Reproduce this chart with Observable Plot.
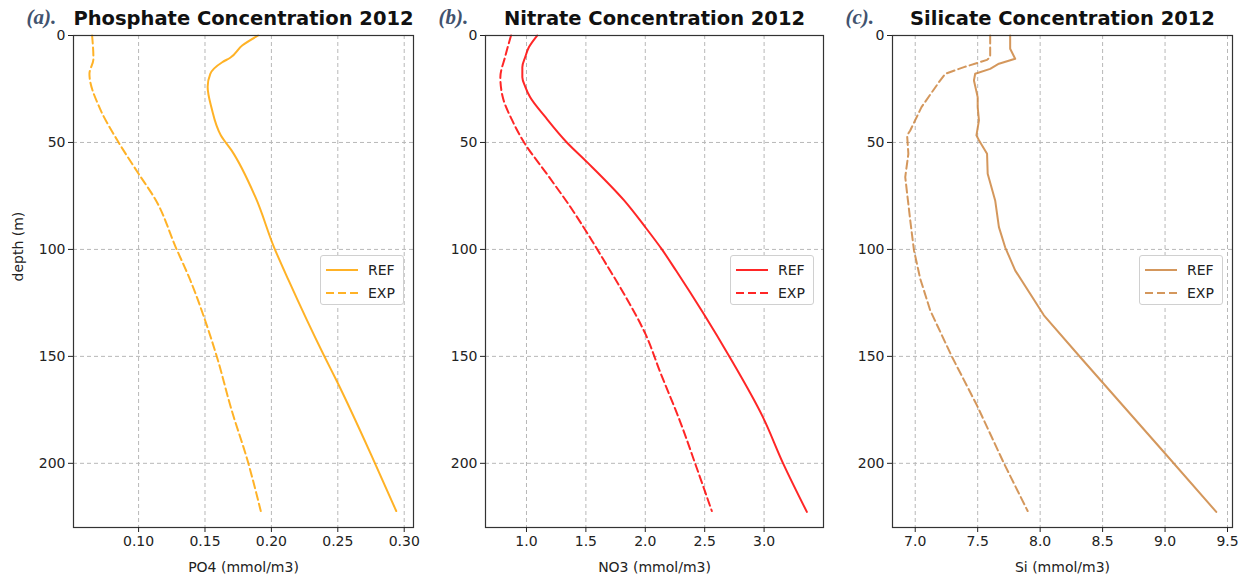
<!DOCTYPE html>
<html>
<head>
<meta charset="utf-8">
<script src="https://cdn.jsdelivr.net/npm/d3@7"></script>
<script src="https://cdn.jsdelivr.net/npm/@observablehq/plot@0.6"></script>
<style>
  html, body { margin: 0; padding: 0; background: #fff; }
  #wrap { position: relative; width: 1248px; height: 583px; overflow: hidden; font-family: "DejaVu Sans", sans-serif; }
  .panel { position: absolute; top: 0; }
  .legend { position: absolute; background: #fff; border: 1px solid #d0d0d0; border-radius: 3px; box-sizing: border-box; font-family: "DejaVu Sans", sans-serif; font-size: 14px; color: #222; }
  .legend .row { position: absolute; left: 0; height: 20px; line-height: 20px; }
  .legend svg { position: absolute; left: 4px; top: 0; }
  .legend span { position: absolute; left: 47px; top: 0; }
</style>
</head>
<body>
<div id="wrap"></div>
<script>
// ---------- data ----------
const depthTicks = [0, 50, 100, 150, 200];
const depthDomain = [0, 230];

// Phosphate (PO4)
const po4Ticks = [0.10, 0.15, 0.20, 0.25, 0.30];
const po4RefDepth = [0, 4.7, 10.4, 12.5, 17.9, 24, 34, 46.7, 53.7, 75.6, 99, 114.5, 149.5, 162, 198.6, 222.3];
const po4Ref      = [0.190, 0.178, 0.169, 0.163, 0.154, 0.152, 0.155, 0.162, 0.170, 0.188, 0.202, 0.213, 0.2395, 0.2496, 0.277, 0.294];
const po4ExpDepth = [0, 10.9, 17.9, 34.3, 49, 64.6, 77, 99, 114.5, 133, 150.3, 175, 198.6, 222.3];
const po4Exp      = [0.065, 0.066, 0.063, 0.071, 0.084, 0.100, 0.113, 0.128, 0.139, 0.150, 0.159, 0.170, 0.182, 0.192];

// Nitrate (NO3)
const no3Ticks = [1.0, 1.5, 2.0, 2.5, 3.0];
const no3RefDepth = [0, 5.5, 10, 14.8, 19.5, 24, 28.8, 38.2, 50, 59.2, 77, 89.6, 100, 110, 130, 150.3, 178.4, 200, 222.7];
const no3Ref      = [1.09, 1.02, 0.99, 0.965, 0.965, 0.99, 1.03, 1.16, 1.34, 1.51, 1.82, 2.00, 2.14, 2.26, 2.49, 2.71, 2.99, 3.16, 3.36];
const no3ExpDepth = [0, 10, 19.5, 28.8, 39.7, 50, 64.6, 80.2, 95.8, 105, 120.7, 139.4, 158, 180, 201.7, 222.3];
const no3Exp      = [0.87, 0.82, 0.78, 0.80, 0.88, 0.98, 1.17, 1.37, 1.55, 1.65, 1.82, 2.00, 2.13, 2.29, 2.43, 2.56];

// Silicate (Si)
const siTicks = [7.0, 7.5, 8.0, 8.5, 9.0, 9.5];
const siRefDepth = [0, 6.2, 10.9, 13.2, 15.6, 17.9, 21, 28.8, 33.5, 39.7, 46.7, 49, 55.3, 64.6, 77.1, 89.6, 99, 109.8, 130.8, 150.3, 194.7, 222.7];
const siRef      = [7.76, 7.76, 7.80, 7.67, 7.60, 7.48, 7.47, 7.50, 7.50, 7.51, 7.49, 7.51, 7.575, 7.58, 7.64, 7.67, 7.72, 7.80, 8.03, 8.32, 8.99, 9.41];
const siExpDepth = [0, 10, 11.4, 14.8, 17.9, 21.8, 33.5, 44.4, 46.7, 55.3, 66.2, 86.4, 100.5, 113.7, 128.5, 150.3, 173, 200, 222.3];
const siExp      = [7.60, 7.60, 7.575, 7.39, 7.24, 7.19, 7.05, 6.96, 6.935, 6.945, 6.92, 6.96, 6.99, 7.04, 7.12, 7.295, 7.495, 7.71, 7.90];

const seriesNames = ["REF", "EXP"];

// ---------- drawing ----------
const H = 583, MT = 35, MB = 56;
const gridColor = "#b8b8b8";
const textColor = "#222";
const dashed = "8,4";

function rows(depth, vals) { return depth.map((d, i) => ({depth: d, value: vals[i]})); }

function makePanel(o) {
  const ref = rows(o.refDepth, o.ref);
  const exp = rows(o.expDepth, o.exp);
  const marks = [
    Plot.gridX({ticks: o.xTicks, stroke: gridColor, strokeOpacity: 1, strokeDasharray: "4,3"}),
    Plot.gridY({ticks: depthTicks, stroke: gridColor, strokeOpacity: 1, strokeDasharray: "4,3"}),
    Plot.line(ref, {x: "value", y: "depth", stroke: o.color, strokeWidth: 2, strokeOpacity: 0.85, curve: o.curve}),
    Plot.line(exp, {x: "value", y: "depth", stroke: o.color, strokeWidth: 2, strokeOpacity: 0.85, strokeDasharray: dashed, curve: o.curve}),
    Plot.frame({stroke: "#333", strokeWidth: 1.2}),
    Plot.axisX({ticks: o.xTicks, tickFormat: d3.format(o.fmt), tickSize: 5, tickPadding: 4, label: null, fontSize: 14}),
    Plot.axisY({ticks: depthTicks, tickSize: 5, tickPadding: 3, label: null, fontSize: 14}),
    Plot.text([o.xLabel], {text: d => d, frameAnchor: "bottom", dy: 40, fontSize: 14, lineAnchor: "middle", fill: textColor}),
    Plot.text([o.title], {text: d => d, frameAnchor: "top", dy: -17, fontSize: 19.5, fontWeight: "bold", lineAnchor: "middle", fill: "#111"}),
    Plot.text([o.letter], {text: d => d, frameAnchor: "top-left", textAnchor: "start", dx: -47, dy: -18, fontSize: 21, fontWeight: "bold", fontStyle: "italic", fontFamily: "Liberation Serif, DejaVu Serif, serif", fill: "#42536F", lineAnchor: "middle"})
  ];
  if (o.yLabel) {
    marks.push(Plot.text([o.yLabel], {text: d => d, frameAnchor: "left", dx: -55, rotate: -90, fontSize: 14, lineAnchor: "middle", fill: textColor}));
  }
  const svg = Plot.plot({
    width: o.width, height: H,
    marginLeft: o.ml, marginRight: o.mr, marginTop: MT, marginBottom: MB,
    x: {domain: o.xDomain},
    y: {domain: depthDomain, reverse: true},
    style: {fontFamily: "DejaVu Sans, sans-serif", fontSize: "14px", color: textColor, background: "transparent", overflow: "visible"},
    marks
  });
  const div = document.createElement("div");
  div.className = "panel";
  div.style.left = o.left + "px";
  div.style.width = o.width + "px";
  div.appendChild(svg);

  // legend inside the axes
  const lg = document.createElement("div");
  lg.className = "legend";
  const lgW = 84, lgH = 50;
  lg.style.width = lgW + "px";
  lg.style.height = lgH + "px";
  lg.style.left = (o.width - o.mr - 9 - lgW) + "px";
  lg.style.top = "255px";
  seriesNames.forEach((name, i) => {
    const r = document.createElement("div");
    r.className = "row";
    r.style.top = (4 + i * 23) + "px";
    r.style.width = lgW + "px";
    const dash = i === 1 ? ` stroke-dasharray="${dashed}"` : '';
    r.innerHTML = `<svg width="36" height="20"><line x1="1" y1="10" x2="33" y2="10" stroke="${o.color}" stroke-opacity="0.85" stroke-width="2"${dash}/></svg><span>${name}</span>`;
    lg.appendChild(r);
  });
  div.appendChild(lg);
  return div;
}

const wrap = document.getElementById("wrap");
wrap.appendChild(makePanel({
  left: 0, width: 420, ml: 73, mr: 7,
  xDomain: [0.051, 0.307], xTicks: po4Ticks, fmt: ".2f", curve: "monotone-y",
  refDepth: po4RefDepth, ref: po4Ref, expDepth: po4ExpDepth, exp: po4Exp,
  color: "orange", xLabel: "PO4 (mmol/m3)", title: "Phosphate Concentration 2012", letter: "(a).",
  yLabel: "depth (m)"
}));
wrap.appendChild(makePanel({
  left: 420, width: 410, ml: 65, mr: 7,
  xDomain: [0.655, 3.5], xTicks: no3Ticks, fmt: ".1f", curve: "monotone-y",
  refDepth: no3RefDepth, ref: no3Ref, expDepth: no3ExpDepth, exp: no3Exp,
  color: "red", xLabel: "NO3 (mmol/m3)", title: "Nitrate Concentration 2012", letter: "(b)."
}));
wrap.appendChild(makePanel({
  left: 830, width: 418, ml: 62, mr: 16,
  xDomain: [6.818, 9.54], xTicks: siTicks, fmt: ".1f", curve: "linear",
  refDepth: siRefDepth, ref: siRef, expDepth: siExpDepth, exp: siExp,
  color: "peru", xLabel: "Si (mmol/m3)", title: "Silicate Concentration 2012", letter: "(c)."
}));
</script>
</body>
</html>
